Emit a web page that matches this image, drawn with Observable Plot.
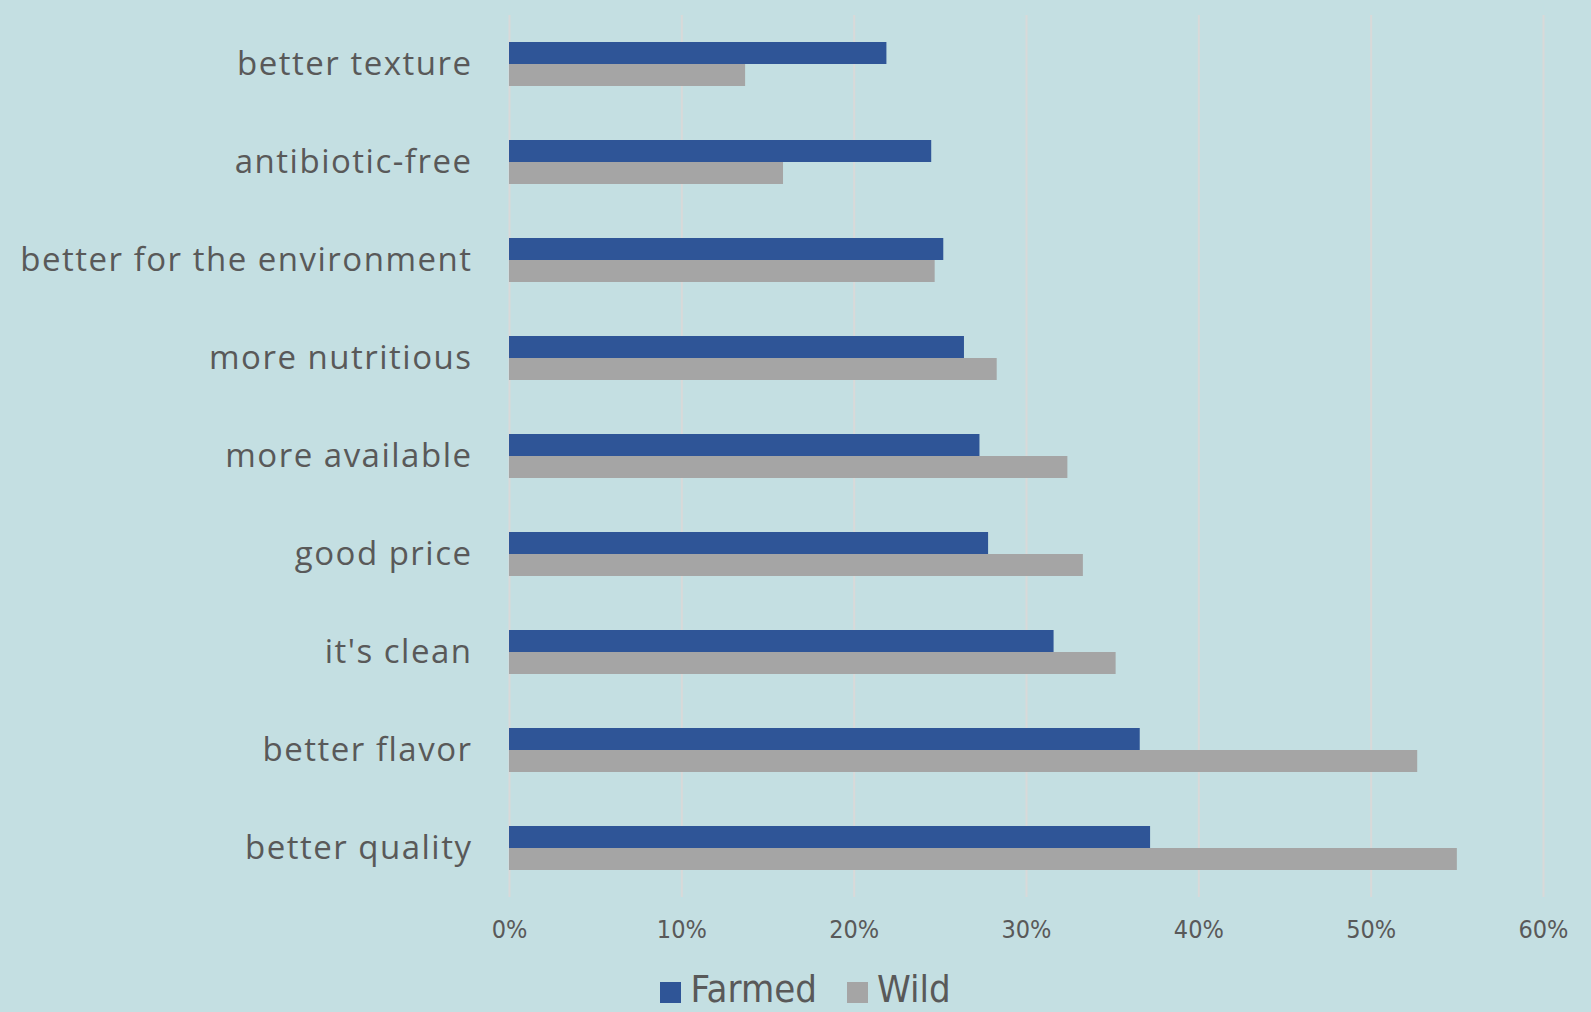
<!DOCTYPE html>
<html>
<head>
<meta charset="utf-8">
<script src="https://cdn.jsdelivr.net/npm/d3@7"></script>
<script src="https://cdn.jsdelivr.net/npm/@observablehq/plot@0.6"></script>
<style>
  html, body { margin: 0; padding: 0; background: #C4DFE2; width: 1591px; height: 1012px; overflow: hidden; }
  #chart svg { display: block; }
  #chart [aria-label^="fy-axis"] text { font-size: 33px; letter-spacing: 1.5px; font-family: "Open Sans", sans-serif; fill: #595959; }
  #chart [aria-label^="x-axis"] text { font-size: 25px; font-family: "DejaVu Sans", sans-serif; font-stretch: condensed; fill: #595959; }
  #legend { position: relative; height: 52px; box-sizing: border-box; padding-top: 6px; display: flex; align-items: center; justify-content: center; padding-left: 20px; font-family: "DejaVu Sans", sans-serif; font-stretch: condensed; font-size: 38px; line-height: 1; color: #595959; }
  #legend .item { display: flex; align-items: center; margin: 0 15px; }
  #legend .sw { width: 21px; height: 21px; margin-right: 9px; margin-top: 6px; }
</style>
</head>
<body>
<div id="chart"></div>
<div id="legend"></div>
<script>
const categories = ["better texture", "antibiotic-free", "better for the environment", "more nutritious", "more available", "good price", "it's clean", "better flavor", "better quality"];
const farmed = [0.219, 0.245, 0.252, 0.264, 0.273, 0.278, 0.316, 0.366, 0.372];
const wild = [0.137, 0.159, 0.247, 0.283, 0.324, 0.333, 0.352, 0.527, 0.550];
const series = ["Farmed", "Wild"];
const seriesColors = ["#2F5597", "#A5A5A5"];
const xTicks = [0, 0.1, 0.2, 0.3, 0.4, 0.5, 0.6];

const data = categories.flatMap((c, i) => [
  {category: c, series: "Farmed", value: farmed[i]},
  {category: c, series: "Wild", value: wild[i]}
]);

const chart = Plot.plot({
  width: 1591,
  height: 960,
  marginLeft: 509,
  marginRight: 48,
  marginTop: 13,
  marginBottom: 62,
  style: {background: "#C4DFE2", color: "#595959", fontFamily: "Open Sans, sans-serif"},
  x: {domain: [0, 0.6], ticks: xTicks, tickFormat: d3.format(".0%"), tickSize: 0, tickPadding: 23, label: null},
  y: {domain: series, axis: null, paddingInner: 0, paddingOuter: 1.2},
  fy: {domain: categories, padding: 0, label: null, tickSize: 0, tickPadding: 37},
  color: {domain: series, range: seriesColors},
  marks: [
    Plot.gridX(xTicks, {stroke: "#D9D9D9", strokeOpacity: 1, strokeWidth: 2}),
    Plot.barX(data, {x: "value", y: "series", fy: "category", fill: "series"})
  ]
});
document.getElementById("chart").appendChild(chart);

const legend = document.getElementById("legend");
series.forEach((s, i) => {
  const item = document.createElement("div");
  item.className = "item";
  const sw = document.createElement("span");
  sw.className = "sw";
  sw.style.background = seriesColors[i];
  const t = document.createElement("span");
  t.textContent = s;
  item.appendChild(sw);
  item.appendChild(t);
  legend.appendChild(item);
});
</script>
</body>
</html>
